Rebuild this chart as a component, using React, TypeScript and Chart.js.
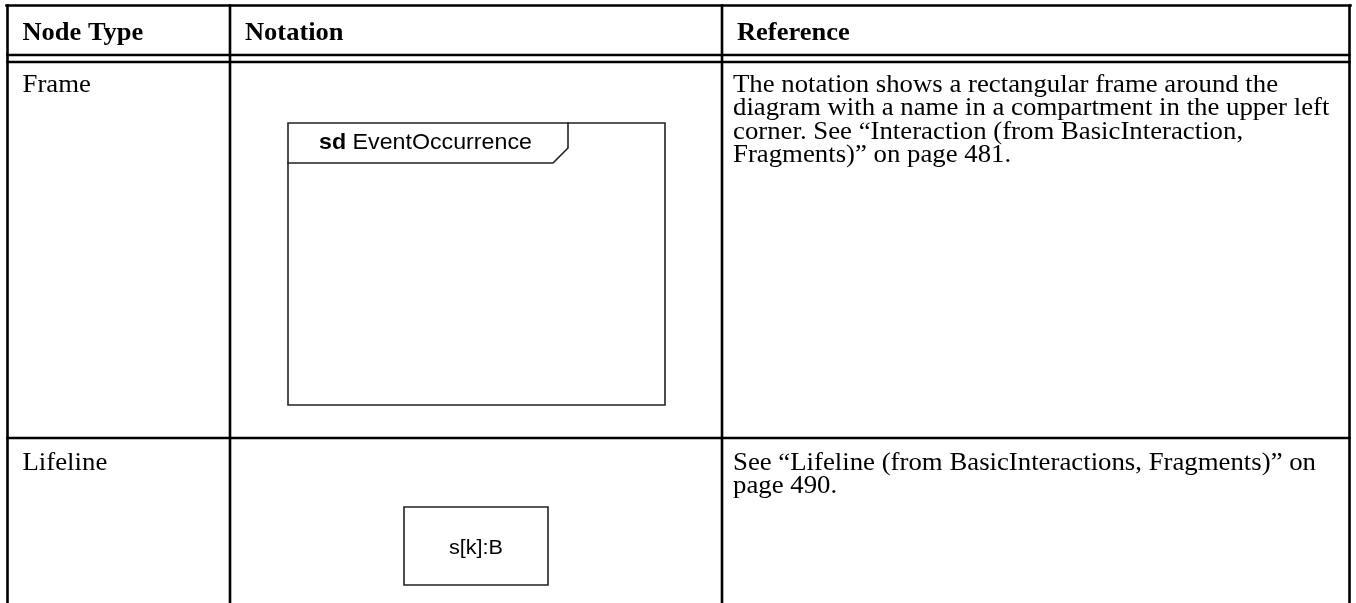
import React, { useEffect, useRef } from "react";
import { Chart, registerables } from "chart.js";

Chart.register(...registerables);

// ---- Content ----
const columnHeaders = ["Node Type", "Notation", "Reference"];
const nodeTypes = ["Frame", "Lifeline"];
const frameLabelKeyword = "sd";
const frameLabelName = " EventOccurrence";
const lifelineLabel = "s[k]:B";
const referenceLines: string[][] = [
  [
    "The notation shows a rectangular frame around the",
    "diagram with a name in a compartment in the upper left",
    "corner. See \u201CInteraction (from BasicInteraction,",
    "Fragments)\u201D on page 481.",
  ],
  [
    "See \u201CLifeline (from BasicInteractions, Fragments)\u201D on",
    "page 490.",
  ],
];

// ---- Layout (pixel space of the page) ----
const W = 1356;
const H = 603;
const colEdges = [7.5, 230, 722, 1349.5];
const tableTop = 5.5;
const headerLines = [55, 62];
const rowDivider = 438;
const textInset = 15;
const headerBaseline = 40;
const rowBaselines = [92, 470];
const lineStep = 23.4;
const stretch = 1.08;
const frameBox = { x0: 288, y0: 123, x1: 665, y1: 405, tabBottom: 163, tabRight: 568, tabCut: 15 };
const lifeBox = { x0: 404, y0: 507, x1: 548, y1: 585 };

const SERIF = "'Liberation Serif', 'Times New Roman', serif";
const SANS = "'Liberation Sans', Arial, sans-serif";

type Seg = { pts: [number, number][]; w: number; c: string };

function buildSegments(): Seg[] {
  const segs: Seg[] = [];
  const black = "#000000";
  const thick = 2.6;
  segs.push({ pts: [[colEdges[0] - 1, tableTop], [colEdges[3] + 1, tableTop]], w: thick, c: black });
  headerLines.forEach((y) => segs.push({ pts: [[colEdges[0], y], [colEdges[3], y]], w: thick, c: black }));
  segs.push({ pts: [[colEdges[0], rowDivider], [colEdges[3], rowDivider]], w: thick, c: black });
  colEdges.forEach((x) => segs.push({ pts: [[x, tableTop], [x, H]], w: thick, c: black }));
  const g = "#222222";
  const fw = 1.6;
  const f = frameBox;
  segs.push({ pts: [[f.x0, f.y0], [f.x1, f.y0], [f.x1, f.y1], [f.x0, f.y1], [f.x0, f.y0]], w: fw, c: g });
  segs.push({
    pts: [[f.x0, f.tabBottom], [f.tabRight - f.tabCut, f.tabBottom], [f.tabRight, f.tabBottom - f.tabCut], [f.tabRight, f.y0]],
    w: fw,
    c: g,
  });
  const l = lifeBox;
  segs.push({ pts: [[l.x0, l.y0], [l.x1, l.y0], [l.x1, l.y1], [l.x0, l.y1], [l.x0, l.y0]], w: fw, c: g });
  return segs;
}

function drawText(ctx: CanvasRenderingContext2D, text: string, x: number, y: number, font: string, align: "left" | "center" = "left") {
  ctx.save();
  ctx.font = font;
  ctx.translate(x, y);
  ctx.scale(stretch, 1);
  const w = ctx.measureText(text).width;
  const dx = align === "center" ? -w / 2 : 0;
  ctx.fillText(text, dx, 0);
  ctx.restore();
  return w * stretch;
}

const textPlugin = {
  id: "tableText",
  afterDatasetsDraw(chart: any) {
    const { ctx } = chart;
    const xs = chart.scales.x;
    const ys = chart.scales.y;
    const px = (v: number) => xs.getPixelForValue(v);
    const py = (v: number) => ys.getPixelForValue(v);
    ctx.save();
    ctx.fillStyle = "#000";
    ctx.textBaseline = "alphabetic";
    ctx.textAlign = "left";
    const headFont = `bold 24.5px ${SERIF}`;
    const bodyFont = `24.8px ${SERIF}`;
    columnHeaders.forEach((h, i) => drawText(ctx, h, px(colEdges[i] + textInset), py(headerBaseline), headFont));
    nodeTypes.forEach((n, i) => drawText(ctx, n, px(colEdges[0] + textInset), py(rowBaselines[i]), bodyFont));
    referenceLines.forEach((lines, i) =>
      lines.forEach((t, j) =>
        drawText(ctx, t, px(colEdges[2] + textInset - 4), py(rowBaselines[i] + j * lineStep), bodyFont)
      )
    );
    // frame label
    const kx = px(frameBox.x0 + 31);
    const ky = py(149);
    const kw = drawText(ctx, frameLabelKeyword, kx, ky, `bold 21.5px ${SANS}`);
    drawText(ctx, frameLabelName, kx + kw, ky, `21.5px ${SANS}`);
    // lifeline label
    drawText(ctx, lifelineLabel, px((lifeBox.x0 + lifeBox.x1) / 2), py(554), `20px ${SANS}`, "center");
    ctx.restore();
  },
};

export default function App() {
  const ref = useRef<HTMLCanvasElement | null>(null);
  useEffect(() => {
    document.body.style.margin = "0";
    const segs = buildSegments();
    const chart = new Chart(ref.current!, {
      type: "scatter",
      data: {
        datasets: segs.map((s) => ({
          data: s.pts.map(([x, y]) => ({ x, y })),
          showLine: true,
          borderColor: s.c,
          borderWidth: s.w,
          pointRadius: 0,
          fill: false,
          tension: 0,
          borderCapStyle: "square" as const,
          borderJoinStyle: "miter" as const,
        })),
      },
      options: {
        animation: false,
        responsive: false,
        events: [],
        layout: { padding: 0 },
        plugins: { legend: { display: false }, tooltip: { enabled: false } },
        scales: {
          x: { type: "linear", min: 0, max: W, display: false },
          y: { type: "linear", min: 0, max: H, reverse: true, display: false },
        },
      },
      plugins: [textPlugin],
    });
    return () => chart.destroy();
  }, []);
  return (
    <div style={{ position: "absolute", left: 0, top: 0, width: W, height: H, background: "#fff" }}>
      <canvas ref={ref} width={W} height={H} />
    </div>
  );
}
